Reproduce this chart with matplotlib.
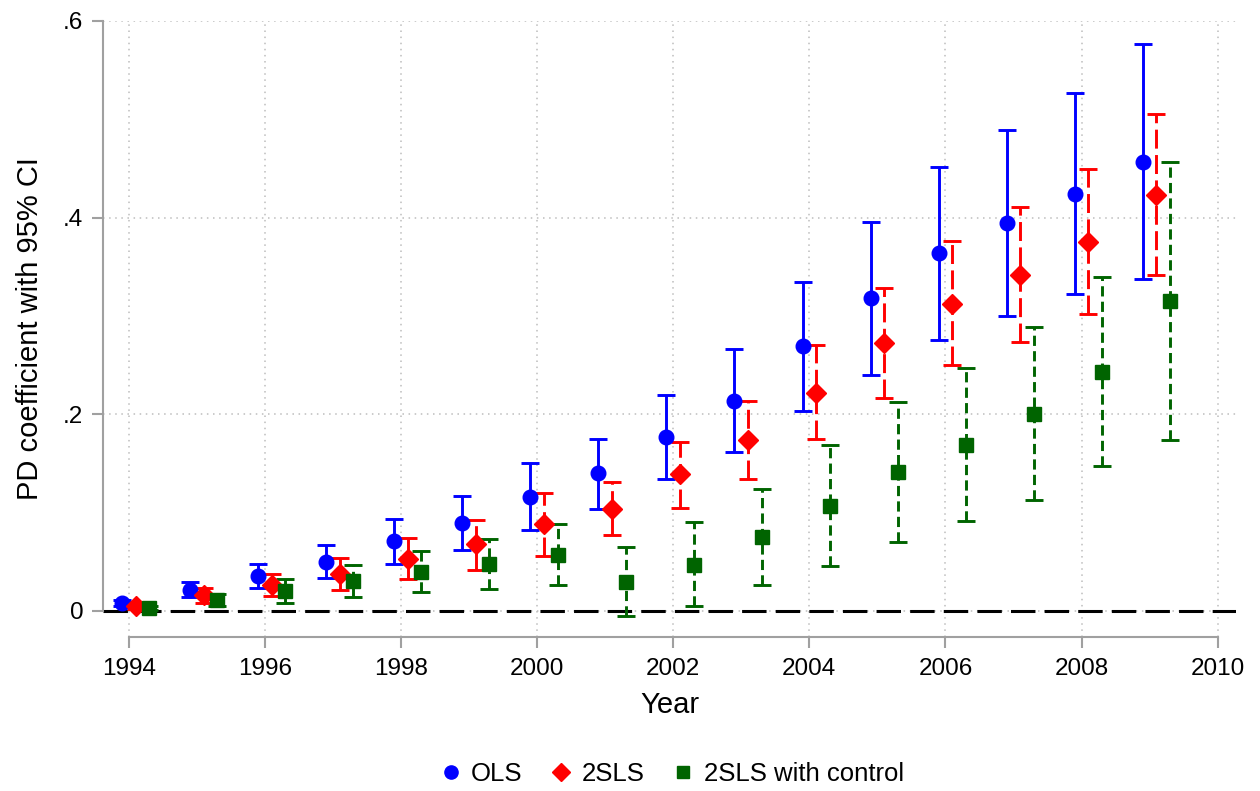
import numpy as np
import matplotlib
matplotlib.use('Agg')
import matplotlib.pyplot as plt
from matplotlib.lines import Line2D

plt.rcParams['font.family'] = ['Liberation Sans', 'DejaVu Sans']

# ===== data =====
years = np.arange(1994, 2010)

ols = [0.008, 0.021, 0.036, 0.050, 0.071, 0.089, 0.116, 0.140,
       0.177, 0.214, 0.269, 0.318, 0.364, 0.395, 0.424, 0.457]
ols_lo = [0.005, 0.014, 0.023, 0.033, 0.048, 0.062, 0.082, 0.104,
          0.134, 0.162, 0.203, 0.240, 0.276, 0.300, 0.322, 0.338]
ols_hi = [0.011, 0.029, 0.048, 0.067, 0.094, 0.117, 0.150, 0.175,
          0.220, 0.266, 0.335, 0.396, 0.451, 0.489, 0.527, 0.577]

tsls = [0.005, 0.016, 0.026, 0.038, 0.053, 0.068, 0.088, 0.104,
        0.139, 0.174, 0.222, 0.272, 0.312, 0.342, 0.375, 0.423]
tsls_lo = [0.002, 0.008, 0.015, 0.021, 0.032, 0.042, 0.056, 0.077,
           0.105, 0.134, 0.175, 0.217, 0.250, 0.274, 0.302, 0.342]
tsls_hi = [0.008, 0.023, 0.038, 0.054, 0.074, 0.092, 0.120, 0.131,
           0.172, 0.214, 0.270, 0.328, 0.376, 0.411, 0.449, 0.505]

ctrl = [0.003, 0.011, 0.020, 0.030, 0.040, 0.048, 0.057, 0.029,
        0.047, 0.075, 0.107, 0.141, 0.169, 0.200, 0.243, 0.315]
ctrl_lo = [0.001, 0.005, 0.008, 0.014, 0.019, 0.022, 0.026, -0.005,
           0.005, 0.026, 0.046, 0.070, 0.091, 0.113, 0.147, 0.174]
ctrl_hi = [0.005, 0.017, 0.032, 0.047, 0.061, 0.073, 0.088, 0.065,
           0.090, 0.124, 0.169, 0.212, 0.247, 0.289, 0.340, 0.457]

x_ticks = [1994, 1996, 1998, 2000, 2002, 2004, 2006, 2008, 2010]
y_ticks = [0, 0.2, 0.4, 0.6]
y_labels = ['0', '.2', '.4', '.6']

# ===== style =====
BLUE = '#0000ff'
RED = '#ff0000'
GREEN = '#006400'
LW = 2.1
FS_TICK = 17.5
FS_LABEL = 21
FS_LEGEND = 18.5

fig = plt.figure(figsize=(12.6, 7.91), dpi=100)
ax = fig.add_axes([0.0817, 0.1947, 0.8993, 0.7788])


def draw_series(xs, y, lo, hi, color, marker, ms, ls, label):
    y = np.array(y)
    err = [y - np.array(lo), np.array(hi) - y]
    eb = ax.errorbar(xs, y, yerr=err, fmt=marker, color=color, ms=ms,
                     mec=color, ecolor=color, elinewidth=LW, capsize=6.5,
                     capthick=LW, label=label, zorder=3)
    eb[2][0].set_linestyle(ls)
    return eb


draw_series(years - 0.1, ols, ols_lo, ols_hi, BLUE, 'o', 10.5, '-', 'OLS')
draw_series(years + 0.1, tsls, tsls_lo, tsls_hi, RED, 'D', 10.5, (0, (6.5, 2.2)), '2SLS')
draw_series(years + 0.3, ctrl, ctrl_lo, ctrl_hi, GREEN, 's', 10, (0, (3.5, 1.8)), '2SLS with control')

ax.axhline(0, color='black', lw=2.2, linestyle=(0, (8, 3)), zorder=2)

ax.set_xlim(1993.62, 2010.27)
ax.set_ylim(-0.0265, 0.6)
ax.set_xticks(x_ticks)
ax.set_yticks(y_ticks)
ax.set_yticklabels(y_labels)

ax.grid(True, color='#bdbdbd', linestyle=(0, (1, 3)), linewidth=1.1)
ax.set_axisbelow(True)

for s in ['top', 'right']:
    ax.spines[s].set_visible(False)
ax.spines['left'].set_bounds(0, 0.6)
ax.spines['bottom'].set_bounds(1994, 2010)
for s in ['left', 'bottom']:
    ax.spines[s].set_color('#a0a0a0')
    ax.spines[s].set_linewidth(1.5)
ax.tick_params(axis='both', colors='#a0a0a0', length=8, width=1.5,
               labelsize=FS_TICK, labelcolor='black')
ax.tick_params(axis='x', pad=7)
ax.tick_params(axis='y', pad=6)

ax.set_xlabel('Year', fontsize=FS_LABEL, labelpad=8)
ax.set_ylabel('PD coefficient with 95% CI', fontsize=FS_LABEL, labelpad=14)

handles = [
    Line2D([], [], marker='o', color=BLUE, ls='none', ms=9.5),
    Line2D([], [], marker='D', color=RED, ls='none', ms=9.5),
    Line2D([], [], marker='s', color=GREEN, ls='none', ms=9),
]
ax.legend(handles, ['OLS', '2SLS', '2SLS with control'], loc='upper center',
          bbox_to_anchor=(0.5, -0.165), ncol=3, frameon=False, fontsize=FS_LEGEND,
          handletextpad=0.2, columnspacing=0.9, handlelength=1.2)

fig.savefig('out.png', dpi=100)
